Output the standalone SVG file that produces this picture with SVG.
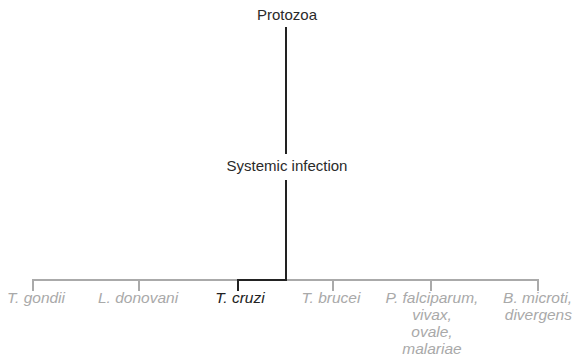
<svg xmlns="http://www.w3.org/2000/svg" width="575" height="362" viewBox="0 0 575 362">
  <style>
    .title { font-family: "Liberation Sans", Arial, sans-serif; font-size: 15px; fill: #2a2a2a; text-anchor: middle; }
    .leaf { font-family: "Liberation Sans", Arial, sans-serif; font-size: 15.5px; font-style: italic; fill: #a9a9a9; text-anchor: middle; }
    .leaf.on { fill: #222; }
    .dim { fill: none; stroke: #aaaaaa; stroke-width: 2; }
    .path { fill: none; stroke: #222; stroke-width: 2; }
  </style>
  <rect width="575" height="362" fill="#ffffff"/>

  <g id="connectors">
    <path class="dim" d="M33 291V280H538V291M139 280V291M333 280V291M431 280V291"/>
    <path class="path" d="M286 27V154M286 180V280H238V291"/>
  </g>

  <g id="protozoa"><text class="title" x="287" y="20">Protozoa</text></g>
  <g id="systemic-infection"><text class="title" x="287" y="171">Systemic infection</text></g>

  <g id="t-gondii"><text class="leaf" x="36" y="303">T. gondii</text></g>
  <g id="l-donovani"><text class="leaf" x="138" y="303">L. donovani</text></g>
  <g id="t-cruzi"><text class="leaf on" x="240" y="303">T. cruzi</text></g>
  <g id="t-brucei"><text class="leaf" x="331" y="303">T. brucei</text></g>
  <g id="plasmodium">
    <text class="leaf" x="432" y="303">P. falciparum,</text>
    <text class="leaf" x="432" y="320">vivax,</text>
    <text class="leaf" x="432" y="337">ovale,</text>
    <text class="leaf" x="432" y="354">malariae</text>
  </g>
  <g id="babesia">
    <text class="leaf" x="572" y="303" style="text-anchor:end">B. microti,</text>
    <text class="leaf" x="572" y="320" style="text-anchor:end">divergens</text>
  </g>
</svg>
